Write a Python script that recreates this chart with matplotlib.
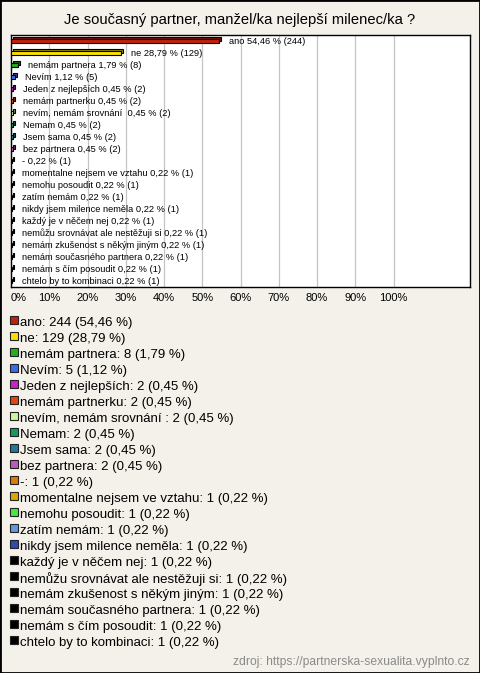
import numpy as np
import matplotlib
matplotlib.use("Agg")
import matplotlib.pyplot as plt
import matplotlib.transforms as mtransforms
from matplotlib.patches import Rectangle
from matplotlib.colors import to_rgb

plt.rcParams['font.family'] = ['Liberation Sans', 'DejaVu Sans']

# data
title = "Je současný partner, manžel/ka nejlepší milenec/ka ?"
source = "zdroj: https://partnerska-sexualita.vyplnto.cz"

categories = ["ano", "ne", "nemám partnera", "Nevím", "Jeden z nejlepších",
              "nemám partnerku", "nevím, nemám srovnání ", "Nemam", "Jsem sama",
              "bez partnera", "-", "momentalne nejsem ve vztahu", "nemohu posoudit",
              "zatím nemám", "nikdy jsem milence neměla", "každý je v něčem nej",
              "nemůžu srovnávat ale nestěžuji si", "nemám zkušenost s někým jiným",
              "nemám současného partnera", "nemám s čím posoudit",
              "chtelo by to kombinaci"]
counts = [244, 129, 8, 5, 2, 2, 2, 2, 2, 2, 1, 1, 1, 1, 1, 1, 1, 1, 1, 1, 1]
percents = [54.46, 28.79, 1.79, 1.12, 0.45, 0.45, 0.45, 0.45, 0.45, 0.45,
            0.22, 0.22, 0.22, 0.22, 0.22, 0.22, 0.22, 0.22, 0.22, 0.22, 0.22]
colors = ["#c42010", "#f8e000", "#20b020", "#3a6ce8", "#c822c8",
          "#e84410", "#ccf899", "#159a62", "#22789a", "#bb5cbb",
          "#e07808", "#dca800", "#44e844", "#6896dc", "#2a4eb0",
          "#000000", "#000000", "#000000", "#000000", "#000000", "#000000"]
xticks = [0, 10, 20, 30, 40, 50, 60, 70, 80, 90, 100]


def fmt(v):
    return f"{v:.2f}".replace(".", ",")


W, H = 480, 673
fig = plt.figure(figsize=(W / 100, H / 100), dpi=100)
fig.patch.set_facecolor("#f3f1e9")

# plot area
ax = fig.add_axes([11 / W, 1 - 287 / H, 459 / W, 252 / H])
ax.set_facecolor("white")
n = len(categories)
ax.set_xlim(0, 120)
ax.set_ylim(n - 0.5, -0.5)
ax.set_xticks(xticks)
ax.set_xticklabels([f"{t}%" for t in xticks])
ax.set_yticks([])
ax.tick_params(axis="x", length=0, pad=4, labelsize=8)
ax.get_xticklabels()[0].set_horizontalalignment("left")
ax.xaxis.grid(True, color="#c4c4c4", lw=0.9)
ax.set_axisbelow(True)
for s in ax.spines.values():
    s.set_color("black")
    s.set_linewidth(1)

# 3D-ish bars: a darker back face shifted up-right, then the front face
depth = mtransforms.ScaledTranslation(2 / 100, 2 / 100, fig.dpi_scale_trans)
bh = 0.4
for i, (p, c) in enumerate(zip(percents, colors)):
    dark = tuple(v * 0.6 for v in to_rgb(c))
    ax.add_patch(Rectangle((0, i - bh / 2), p, bh, transform=ax.transData + depth,
                           facecolor=dark, edgecolor="black", lw=0.8, zorder=3))
    ax.add_patch(Rectangle((0, i - bh / 2), p, bh, facecolor=c,
                           edgecolor="black", lw=0.8, zorder=4))
    ax.annotate(f"{categories[i]} {fmt(p)} % ({counts[i]})", xy=(p, i),
                xytext=(7.2, 0), textcoords="offset points", va="center",
                fontsize=6.7, zorder=5)

fig.text(0.5, 1 - 20 / H, title, ha="center", va="center", fontsize=10.6)

# legend
for i, (cat, c) in enumerate(zip(categories, colors)):
    y = 322 + 16 * i
    fig.add_artist(Rectangle((10 / W, 1 - (y + 2) / H), 8 / W, 8 / H,
                             transform=fig.transFigure, facecolor=c,
                             edgecolor="#222222", lw=0.8))
    fig.text(20 / W, 1 - (y + 1) / H, f"{cat}: {counts[i]} ({fmt(percents[i])} %)",
             ha="left", va="center", fontsize=9.5)

fig.text(470 / W, 1 - 662 / H, source, ha="right", va="center",
         color="#8a8a8a", fontsize=8.7)

fig.add_artist(Rectangle((0, 0), 1, 1, transform=fig.transFigure, fill=False,
                         edgecolor="black", lw=2))

fig.savefig("out.png", dpi=100, facecolor=fig.get_facecolor())
